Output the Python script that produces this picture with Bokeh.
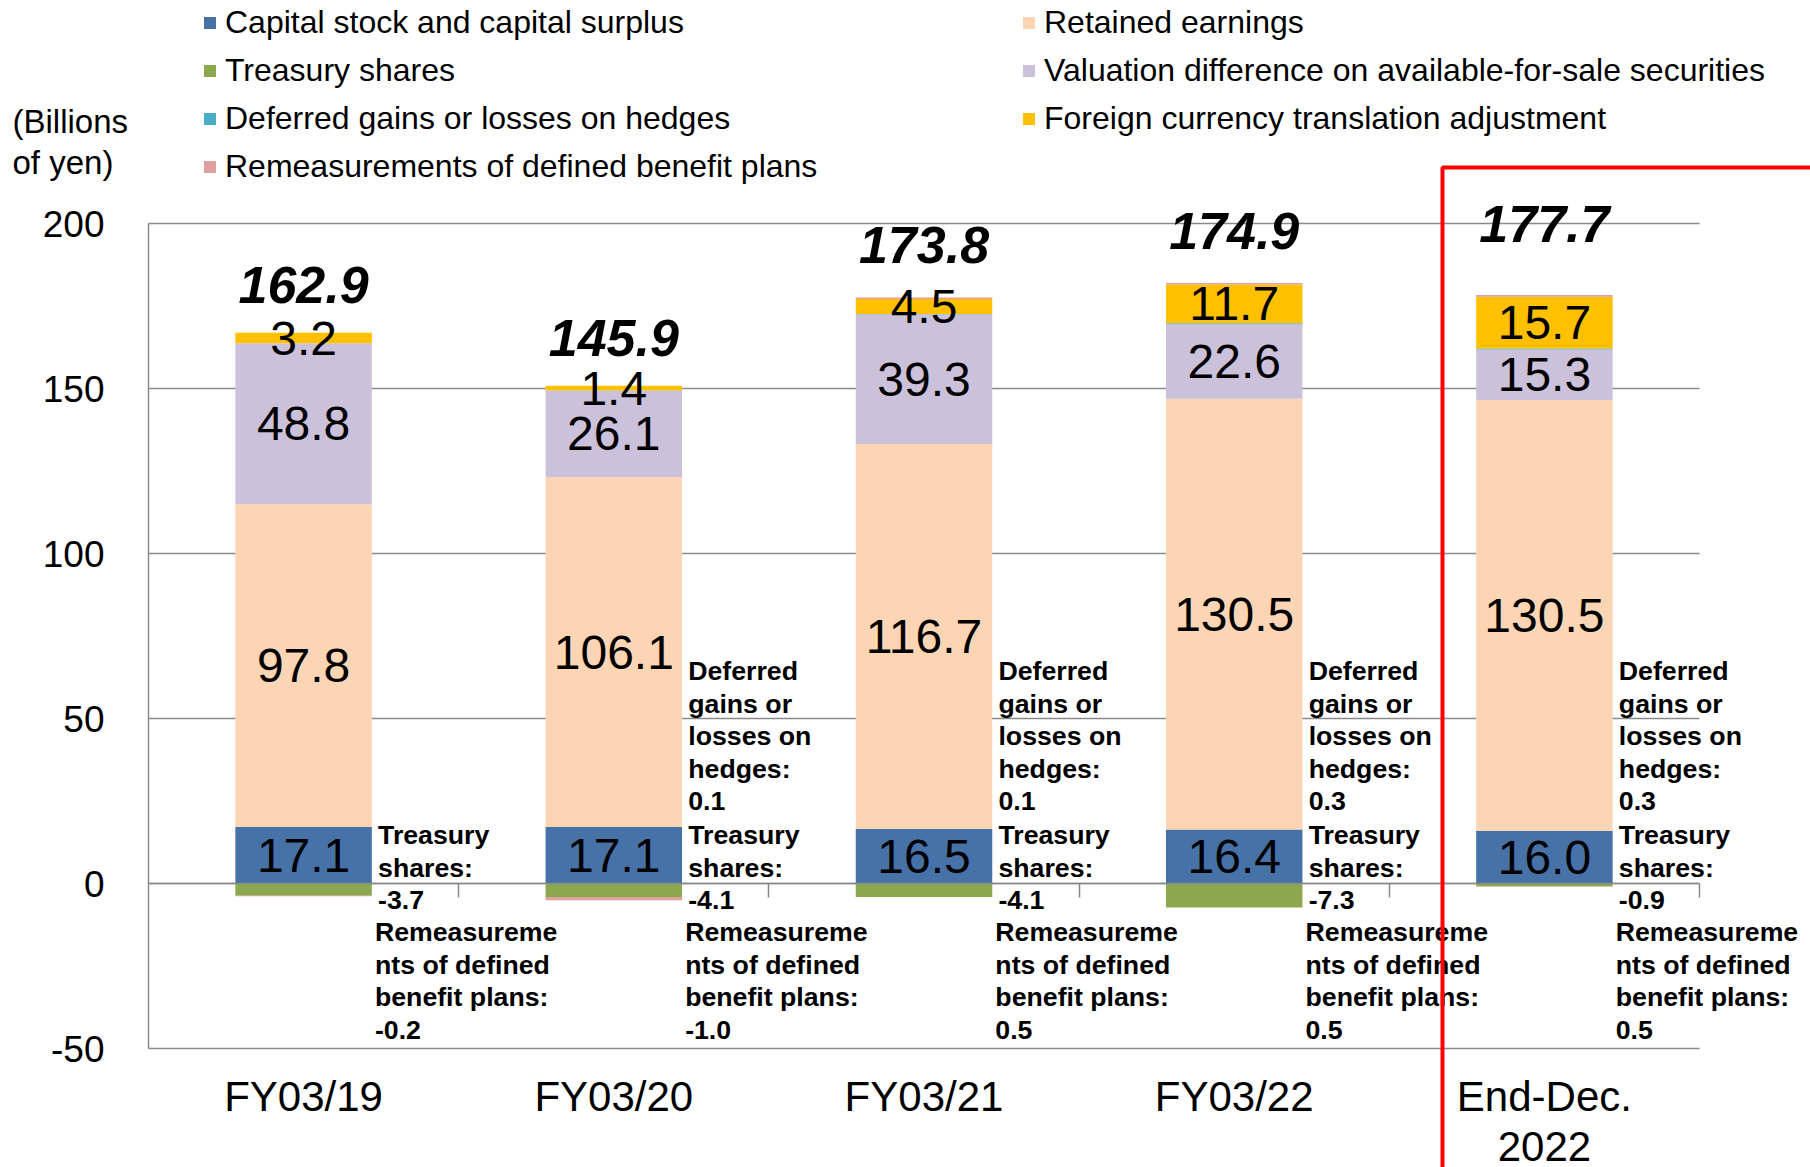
from bokeh.plotting import figure
from bokeh.models import (ColumnDataSource, FixedTicker, LinearAxis, Range1d, LabelSet,
                          Legend, LegendItem, BoxAnnotation, Label, Grid)
from bokeh.core.properties import value
from bokeh.embed import file_html
from bokeh.resources import INLINE

# ---------------- data ----------------
categories = ["FY03/19", "FY03/20", "FY03/21", "FY03/22", "End-Dec.\n2022"]
capital = [17.1, 17.1, 16.5, 16.4, 16.0]
retained = [97.8, 106.1, 116.7, 130.5, 130.5]
valuation = [48.8, 26.1, 39.3, 22.6, 15.3]
hedges = [0.0, 0.1, 0.1, 0.3, 0.3]
fx_adj = [3.2, 1.4, 4.5, 11.7, 15.7]
treasury = [-3.7, -4.1, -4.1, -7.3, -0.9]
remeas = [-0.2, -1.0, 0.5, 0.5, 0.5]
totals = [162.9, 145.9, 173.8, 174.9, 177.7]
y_ticks = [-50, 0, 50, 100, 150, 200]

# ---------------- style / layout ----------------
FONT = "Liberation Sans"
C_CAP = "#4672A8"
C_RET = "#FCD5B5"
C_VAL = "#CCC1DA"
C_HED = "#4BACC6"
C_FX = "#FFC000"
C_TRE = "#8BA84F"
C_REM = "#E0A0A0"
GRID = "#8A8A8A"
BAR_W = 0.44
total_lift = [14.6, 14.6, 15.8, 15.6, 21.7]
W, H = 1810, 1167

n = len(categories)
xs = list(range(n))

src = ColumnDataSource(dict(
    x=xs, capital=capital, retained=retained, valuation=valuation, hedges=hedges,
    fx=fx_adj, remeas_pos=[max(v, 0) for v in remeas],
    treasury=treasury, remeas_neg=[min(v, 0) for v in remeas],
))

p = figure(width=W, height=H, x_range=Range1d(-0.97711, 4.85783), y_range=Range1d(-86.0606, 267.5758),
           output_backend="svg", toolbar_location=None, x_axis_location=None, y_axis_location=None,
           min_border_left=0, min_border_right=0, min_border_top=0, min_border_bottom=0)
p.outline_line_color = None
p.background_fill_color = "white"
p.border_fill_color = "white"
p.grid.visible = False

# horizontal grid limited to the category span
grid = Grid(dimension=1, ticker=FixedTicker(ticks=y_ticks), cross_bounds=(-0.5, 4.5),
            grid_line_color=GRID, grid_line_width=1.5)
p.add_layout(grid)

# y axis
yax = LinearAxis(fixed_location=-0.5, ticker=FixedTicker(ticks=y_ticks), bounds=(-50, 200),
                 major_label_overrides={t: str(t) for t in y_ticks})
yax.axis_line_color = GRID
yax.axis_line_width = 1.5
yax.major_tick_out = 0
yax.major_tick_in = 0
yax.minor_tick_out = 0
yax.minor_tick_in = 0
yax.major_label_standoff = 44
yax.major_label_text_font = FONT
yax.major_label_text_font_size = "37px"
yax.major_label_text_color = "black"
p.add_layout(yax, "left")

# zero axis with boundary ticks
zax = LinearAxis(fixed_location=0, ticker=FixedTicker(ticks=[i + 0.5 for i in xs]), bounds=(-0.5, 4.5),
                 major_label_overrides={i + 0.5: "" for i in xs})
zax.axis_line_color = GRID
zax.axis_line_width = 1.5
zax.major_tick_line_color = GRID
zax.major_tick_line_width = 1.5
zax.major_tick_out = 14
zax.major_tick_in = 0
zax.minor_tick_out = 0
zax.minor_tick_in = 0
p.add_layout(zax, "below")

# category label axis
cax = LinearAxis(fixed_location=-50, ticker=FixedTicker(ticks=xs),
                 major_label_overrides={i: c for i, c in zip(xs, categories)})
cax.axis_line_color = None
cax.major_tick_line_color = None
cax.minor_tick_line_color = None
cax.major_label_standoff = 18
cax.major_label_text_font = FONT
cax.major_label_text_font_size = "42px"
cax.major_label_text_color = "black"
cax.major_label_text_line_height = 1.08
p.add_layout(cax, "below")

# bars
pos_keys = ["capital", "retained", "valuation", "hedges", "fx", "remeas_pos"]
pos_cols = [C_CAP, C_RET, C_VAL, C_HED, C_FX, C_REM]
neg_keys = ["treasury", "remeas_neg"]
neg_cols = [C_TRE, C_REM]
pos_r = p.vbar_stack(pos_keys, x="x", width=BAR_W, source=src, fill_color=pos_cols, line_color=None)
neg_r = p.vbar_stack(neg_keys, x="x", width=BAR_W, source=src, fill_color=neg_cols, line_color=None)

# value labels inside segments
vx, vy, vt = [], [], []
for i in xs:
    segs = [capital[i], retained[i], valuation[i], hedges[i], fx_adj[i]]
    shown = [True, True, True, False, True]
    base = 0.0
    for v, s in zip(segs, shown):
        if s:
            vx.append(i)
            vy.append(base + v / 2)
            vt.append(f"{v:.1f}")
        base += v
p.add_layout(LabelSet(x="x", y="y", text="t", source=ColumnDataSource(dict(x=vx, y=vy, t=vt)),
                      text_align="center", text_baseline="middle", text_font=value(FONT),
                      text_font_size="48px", text_color="black"))

# totals
tops = [capital[i] + retained[i] + valuation[i] + hedges[i] + fx_adj[i] + max(remeas[i], 0) for i in xs]
tsrc = ColumnDataSource(dict(x=xs, y=[tops[i] + total_lift[i] for i in xs], t=[f"{v:.1f}" for v in totals]))
p.add_layout(LabelSet(x="x", y="y", text="t", source=tsrc, text_align="center", text_baseline="middle",
                      text_font=value(FONT), text_font_size="52px", text_font_style="bold italic",
                      text_color="black"))

# side annotations
ax_, ay_, at_ = [], [], []
xoff = BAR_W / 2 + 0.02
for i in xs:
    if hedges[i] != 0:
        ax_.append(i + xoff); ay_.append(68.8)
        at_.append(f"Deferred\ngains or\nlosses on\nhedges:\n{hedges[i]:.1f}")
    ax_.append(i + xoff); ay_.append(19.2)
    at_.append(f"Treasury\nshares:\n{treasury[i]:.1f}")
    ax_.append(i + xoff - 0.01); ay_.append(-10.3)
    at_.append(f"Remeasureme\nnts of defined\nbenefit plans:\n{remeas[i]:.1f}")
p.add_layout(LabelSet(x="x", y="y", text="t", source=ColumnDataSource(dict(x=ax_, y=ay_, t=at_)),
                      text_align="left", text_baseline="top", text_font=value(FONT),
                      text_font_size="26.7px", text_font_style="bold", text_line_height=1.08,
                      text_color="black"))

# unit label
p.add_layout(Label(x=-0.9384, y=224.7, text="(Billions\nof yen)", text_align="left",
                   text_baseline="middle", text_font=FONT, text_font_size="33px",
                   text_line_height=1.1, text_color="black"))

# red highlight frame
p.add_layout(BoxAnnotation(left=3.6715, right=5.5, bottom=-120, top=217, fill_alpha=0,
                           line_color="#FF0000", line_width=4, line_alpha=1.0))

# legend
items = [
    LegendItem(label="Capital stock and capital surplus", renderers=[pos_r[0]]),
    LegendItem(label="Treasury shares", renderers=[neg_r[0]]),
    LegendItem(label="Deferred gains or losses on hedges", renderers=[pos_r[3]]),
    LegendItem(label="Remeasurements of defined benefit plans", renderers=[neg_r[1]]),
    LegendItem(label="Retained earnings", renderers=[pos_r[1]]),
    LegendItem(label="Valuation difference on available-for-sale securities", renderers=[pos_r[2]]),
    LegendItem(label="Foreign currency translation adjustment", renderers=[pos_r[4]]),
]
legend = Legend(items=items, location=(202, 982), orientation="vertical", nrows=4,
                label_text_font=FONT, label_text_font_size="32px", label_text_color="black",
                glyph_width=15, glyph_height=15, label_standoff=8, spacing=11,
                label_height=36, label_width=785, padding=0, margin=0,
                border_line_color=None, background_fill_alpha=0)
p.add_layout(legend)

open("out.html", "w").write(file_html(p, INLINE))
